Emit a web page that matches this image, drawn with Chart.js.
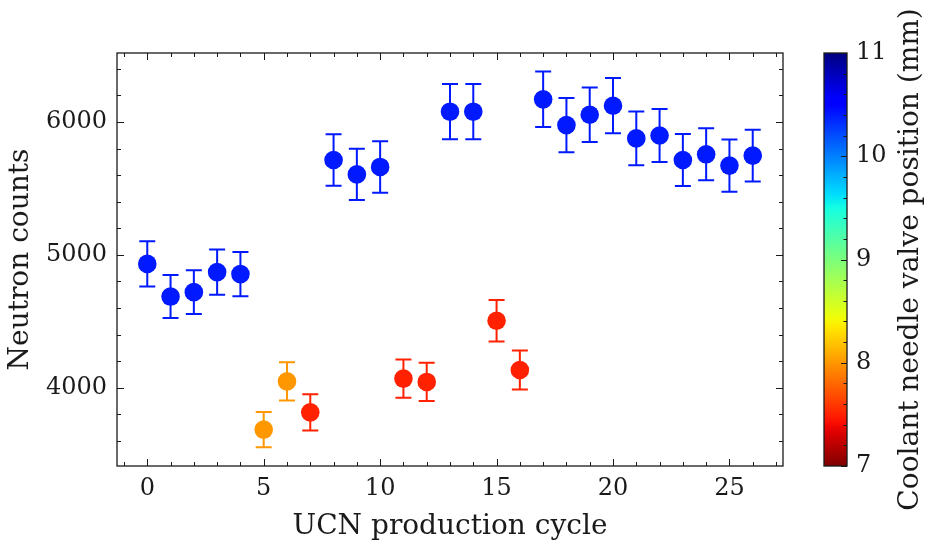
<!DOCTYPE html>
<html>
<head>
<meta charset="utf-8">
<script src="https://cdn.jsdelivr.net/npm/chart.js@4.4.1/dist/chart.umd.min.js"></script>
<style>
  html, body { margin: 0; padding: 0; background: #fff; }
  #wrap { position: relative; width: 928px; height: 548px; }
  #wrap canvas { position: absolute; left: 0; top: 0; }
</style>
</head>
<body>
<div id="wrap">
  <canvas id="countsChart" width="928" height="548"></canvas>
  <canvas id="valveBar" width="928" height="548"></canvas>
</div>
<script>
// production cycles and the neutron counts measured in each
const cycles = [0, 1, 2, 3, 4, 5, 6, 7, 8, 9, 10, 11, 12, 13, 14, 15, 16, 17, 18, 19, 20, 21, 22, 23, 24, 25, 26];
const counts = [4932, 4686, 4719, 4870, 4855, 3684, 4047, 3814, 5714, 5606, 5662, 4068, 4043, 6078,
                6078, 4504, 4133, 6171, 5977, 6055, 6123, 5877, 5899, 5714, 5757, 5672, 5747];
const countErrors = [170, 162, 165, 170, 167, 133, 144, 137, 194, 193, 194, 144, 144, 208,
                     208, 156, 147, 209, 205, 205, 208, 202, 200, 196, 196, 197, 195];
// coolant needle valve position (mm) for each cycle
const valvePositions = [10.4, 10.4, 10.4, 10.4, 10.4, 8.0, 8.0, 7.5, 10.4, 10.4, 10.4, 7.5, 7.5, 10.4,
                        10.4, 7.5, 7.5, 10.4, 10.4, 10.4, 10.4, 10.4, 10.4, 10.4, 10.4, 10.4, 10.4];

const xTickValues = [0, 5, 10, 15, 20, 25];
const yTickValues = [4000, 5000, 6000];
const valveTickValues = [7, 8, 9, 10, 11];

const SERIF = "'DejaVu Serif', serif";
const INK = '#1a1a1a';
const TICK_SIZE = 24;
const TITLE_SIZE = 28;

// matplotlib "jet" segment data
const JET = {
    r: [[0, 0], [0.35, 0], [0.66, 1], [0.89, 1], [1, 0.5]],
    g: [[0, 0], [0.125, 0], [0.375, 1], [0.64, 1], [0.91, 0], [1, 0]],
    b: [[0, 0.5], [0.11, 1], [0.34, 1], [0.65, 0], [1, 0]]
};

function channel(segs, t) {
    for (let i = 1; i < segs.length; i++) {
        if (t <= segs[i][0]) {
            const [x0, y0] = segs[i - 1];
            const [x1, y1] = segs[i];
            return y0 + (y1 - y0) * (t - x0) / (x1 - x0);
        }
    }
    return segs[segs.length - 1][1];
}

// reversed jet over 7..11 mm: large opening is blue, small is red
function valveColor(v) {
    const t = Math.min(1, Math.max(0, (11 - v) / 4));
    const r = Math.round(channel(JET.r, t) * 255);
    const g = Math.round(channel(JET.g, t) * 255);
    const b = Math.round(channel(JET.b, t) * 255);
    return `rgb(${r},${g},${b})`;
}

const pointColors = valvePositions.map(valveColor);

const errorBars = {
    id: 'errorBars',
    beforeDatasetsDraw(chart) {
        const { ctx, scales: { x, y } } = chart;
        ctx.save();
        ctx.lineWidth = 2;
        cycles.forEach((c, i) => {
            const px = x.getPixelForValue(c);
            const top = y.getPixelForValue(counts[i] + countErrors[i]);
            const bot = y.getPixelForValue(counts[i] - countErrors[i]);
            ctx.strokeStyle = pointColors[i];
            ctx.beginPath();
            ctx.moveTo(px, top); ctx.lineTo(px, bot);
            ctx.moveTo(px - 8, top); ctx.lineTo(px + 8, top);
            ctx.moveTo(px - 8, bot); ctx.lineTo(px + 8, bot);
            ctx.stroke();
        });
        ctx.restore();
    }
};

// frame plus inward ticks on all four sides
const frameTicks = {
    id: 'frameTicks',
    afterDraw(chart) {
        const { ctx, chartArea: a, scales: { x, y } } = chart;
        ctx.save();
        ctx.strokeStyle = INK;
        ctx.lineWidth = 1;
        ctx.beginPath();
        for (let v = Math.ceil(x.min); v <= x.max; v++) {
            const px = Math.round(x.getPixelForValue(v)) + 0.5;
            const len = v % 5 === 0 ? 7 : 4;
            ctx.moveTo(px, a.bottom); ctx.lineTo(px, a.bottom - len);
            ctx.moveTo(px, a.top); ctx.lineTo(px, a.top + len);
        }
        for (let v = Math.ceil(y.min / 200) * 200; v <= y.max; v += 200) {
            const py = Math.round(y.getPixelForValue(v)) + 0.5;
            const len = v % 1000 === 0 ? 7 : 4;
            ctx.moveTo(a.left, py); ctx.lineTo(a.left + len, py);
            ctx.moveTo(a.right, py); ctx.lineTo(a.right - len, py);
        }
        ctx.stroke();
        ctx.lineWidth = 1.3;
        ctx.strokeRect(a.left, a.top, a.right - a.left, a.bottom - a.top);
        ctx.restore();
    }
};

new Chart(document.getElementById('countsChart'), {
    type: 'scatter',
    data: {
        datasets: [{
            data: cycles.map((c, i) => ({ x: c, y: counts[i] })),
            pointBackgroundColor: pointColors,
            pointRadius: 9.3,
            pointBorderWidth: 0
        }]
    },
    options: {
        responsive: false,
        animation: false,
        layout: { padding: { top: 53, right: 145, bottom: 0, left: 0 } },
        plugins: { legend: { display: false }, tooltip: { enabled: false } },
        scales: {
            x: {
                type: 'linear',
                min: -1.3,
                max: 27.3,
                grid: { display: false, drawTicks: false },
                border: { display: false },
                afterBuildTicks: s => { s.ticks = xTickValues.map(v => ({ value: v })); },
                afterFit: s => { s.height = 82; },
                ticks: { color: INK, padding: 8, font: { family: SERIF, size: TICK_SIZE }, callback: v => String(v) },
                title: {
                    display: true,
                    text: 'UCN production cycle',
                    color: INK,
                    font: { family: SERIF, size: TITLE_SIZE },
                    padding: { top: 0, bottom: 4 }
                }
            },
            y: {
                min: 3410,
                max: 6520,
                grid: { display: false, drawTicks: false },
                border: { display: false },
                afterBuildTicks: s => { s.ticks = yTickValues.map(v => ({ value: v })); },
                afterFit: s => { s.width = 117; },
                ticks: { color: INK, padding: 10, font: { family: SERIF, size: TICK_SIZE }, callback: v => String(v) },
                title: {
                    display: true,
                    text: 'Neutron counts',
                    color: INK,
                    font: { family: SERIF, size: TITLE_SIZE },
                    padding: { top: 4, bottom: 0 }
                }
            }
        }
    },
    plugins: [errorBars, frameTicks]
});

// colour bar: gradient fill, ticks on the right edge, rotated label
const colorBar = {
    id: 'colorBar',
    beforeDraw(chart) {
        const { ctx, chartArea: a } = chart;
        const grad = ctx.createLinearGradient(0, a.top, 0, a.bottom);
        for (let k = 0; k <= 64; k++) {
            grad.addColorStop(k / 64, valveColor(11 - 4 * k / 64));
        }
        ctx.save();
        ctx.fillStyle = grad;
        ctx.fillRect(a.left, a.top, a.right - a.left, a.bottom - a.top);
        ctx.restore();
    },
    afterDraw(chart) {
        const { ctx, chartArea: a, scales: { y } } = chart;
        ctx.save();
        ctx.strokeStyle = INK;
        ctx.lineWidth = 1;
        ctx.beginPath();
        for (let k = 0; k <= 20; k++) {
            const v = 7 + k * 0.2;
            const py = Math.round(y.getPixelForValue(v)) + 0.5;
            const len = k % 5 === 0 ? 6 : 3.5;
            ctx.moveTo(a.right, py); ctx.lineTo(a.right - len, py);
        }
        ctx.stroke();
        ctx.lineWidth = 1.3;
        ctx.strokeRect(a.left, a.top, a.right - a.left, a.bottom - a.top);

        ctx.fillStyle = INK;
        ctx.font = `${TITLE_SIZE}px ${SERIF}`;
        ctx.textAlign = 'center';
        ctx.textBaseline = 'alphabetic';
        ctx.translate(918, (a.top + a.bottom) / 2);
        ctx.rotate(-Math.PI / 2);
        ctx.fillText('Coolant needle valve position (mm)', 0, 0);
        ctx.restore();
    }
};

new Chart(document.getElementById('valveBar'), {
    type: 'scatter',
    data: { datasets: [{ data: [] }] },
    options: {
        responsive: false,
        animation: false,
        layout: { padding: { top: 53, right: 0, bottom: 82, left: 824 } },
        plugins: { legend: { display: false }, tooltip: { enabled: false } },
        scales: {
            x: { display: false },
            y: {
                position: 'right',
                min: 7,
                max: 11,
                grid: { display: false, drawTicks: false },
                border: { display: false },
                afterBuildTicks: s => { s.ticks = valveTickValues.map(v => ({ value: v })); },
                afterFit: s => { s.width = 81; },
                ticks: { color: INK, padding: 9, font: { family: SERIF, size: TICK_SIZE }, callback: v => String(v) }
            }
        }
    },
    plugins: [colorBar]
});
</script>
</body>
</html>
